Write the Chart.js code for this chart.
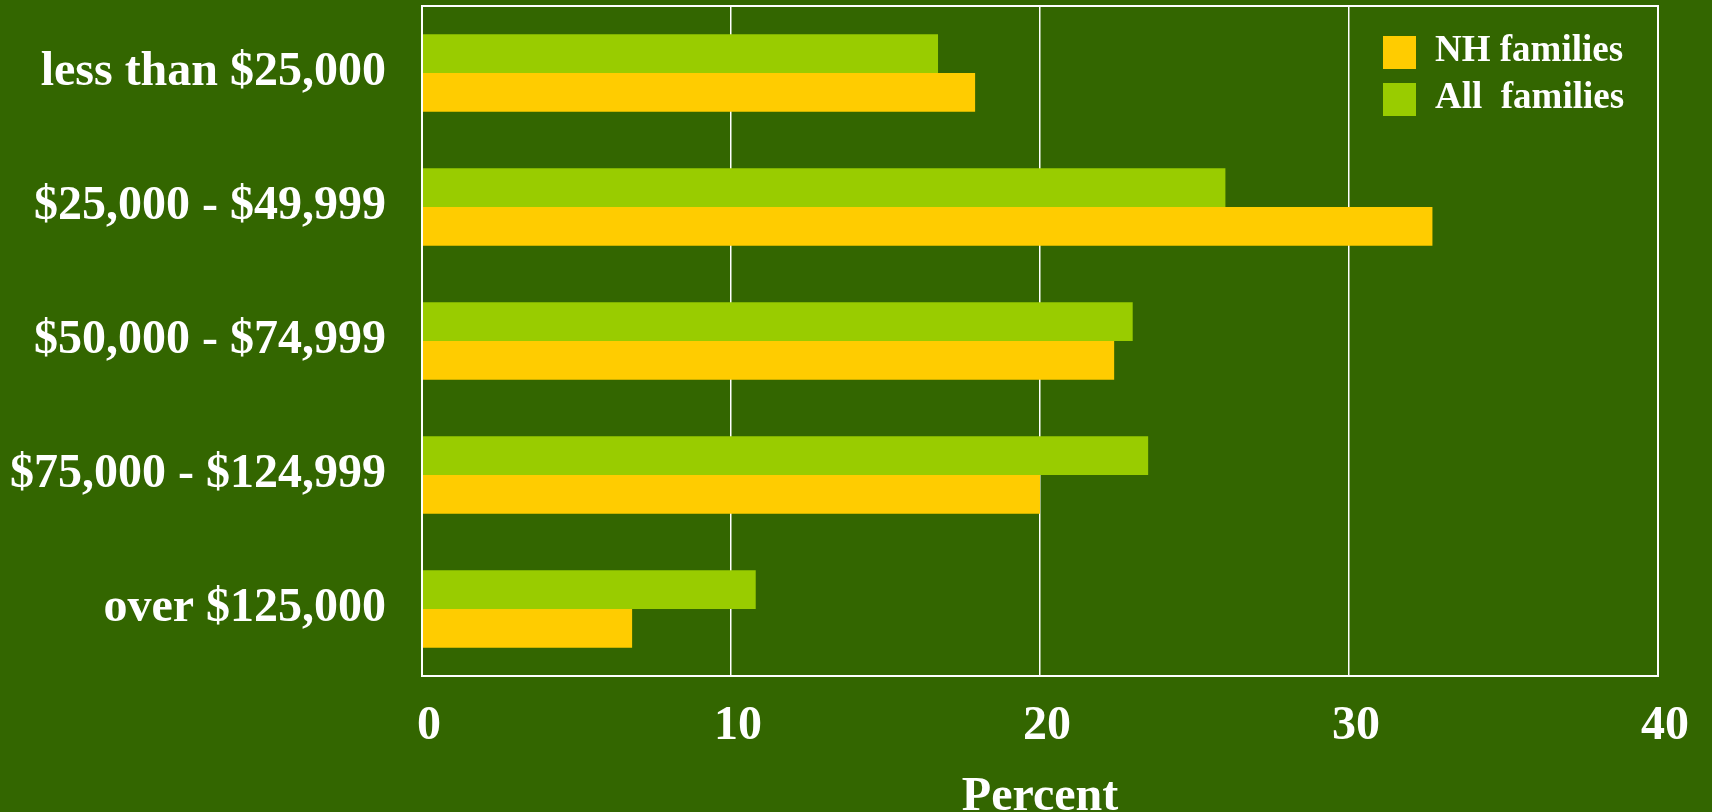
<!DOCTYPE html>
<html lang="en">
<head>
    <meta charset="UTF-8">
    <title>Family Income</title>
    <script src="https://cdn.jsdelivr.net/npm/chart.js@4.4.0/dist/chart.umd.min.js"></script>
    <style>
        html, body { margin: 0; padding: 0; background: #336600; overflow: hidden; }
        #wrap { width: 1712px; height: 812px; }
    </style>
</head>
<body>
    <div id="wrap">
        <canvas id="barChart" width="1712" height="812"></canvas>
    </div>
    <script>
        const categories = ['less than $25,000', '$25,000 - $49,999', '$50,000 - $74,999', '$75,000 - $124,999', 'over $125,000'];
        const allFamilies = [16.7, 26.0, 23.0, 23.5, 10.8];
        const nhFamilies = [17.9, 32.7, 22.4, 20.0, 6.8];
        const seriesNames = ['All  families', 'NH families'];
        const xTicks = [0, 10, 20, 30, 40];

        const serif = '"Liberation Serif", "Times New Roman", serif';

        // white frame round the plot area + legend inside it
        const framePlugin = {
            id: 'frame',
            beforeDraw(chart) {
                const ctx = chart.ctx;
                ctx.save();
                ctx.fillStyle = '#336600';
                ctx.fillRect(0, 0, chart.width, chart.height);
                ctx.restore();
            },
            afterDatasetsDraw(chart) {
                const ctx = chart.ctx;
                const a = chart.chartArea;
                ctx.save();
                ctx.strokeStyle = '#ffffff';
                ctx.lineWidth = 2;
                ctx.strokeRect(a.left, a.top, a.right - a.left, a.bottom - a.top);

                // legend, NH first
                const order = [1, 0];
                ctx.font = 'bold 37px ' + serif;
                ctx.textBaseline = 'middle';
                ctx.textAlign = 'left';
                order.forEach((di, i) => {
                    const ds = chart.data.datasets[di];
                    const bx = a.right - 275;
                    const by = a.top + 30 + i * 47;
                    ctx.fillStyle = ds.backgroundColor;
                    ctx.fillRect(bx, by, 33, 33);
                    ctx.fillStyle = '#ffffff';
                    ctx.fillText(ds.label, bx + 52, by + 15);
                });
                ctx.restore();
            }
        };

        function noPad(scale) {
            scale.paddingTop = 0;
            scale.paddingBottom = 0;
            scale.paddingLeft = 0;
            scale.paddingRight = 0;
        }

        const ctx = document.getElementById('barChart').getContext('2d');
        const barChart = new Chart(ctx, {
            type: 'bar',
            data: {
                labels: categories,
                datasets: [{
                    label: seriesNames[0],
                    data: allFamilies,
                    backgroundColor: '#99cc00',
                    borderWidth: 0
                }, {
                    label: seriesNames[1],
                    data: nhFamilies,
                    backgroundColor: '#ffcc00',
                    borderWidth: 0
                }]
            },
            options: {
                indexAxis: 'y',
                responsive: false,
                animation: false,
                categoryPercentage: 0.58,
                barPercentage: 1.0,
                layout: {
                    padding: { top: 6, right: 54, left: 0, bottom: 0 }
                },
                plugins: {
                    legend: { display: false },
                    tooltip: { enabled: false }
                },
                scales: {
                    x: {
                        min: 0,
                        max: 40,
                        afterBuildTicks: (scale) => {
                            scale.ticks = xTicks.map(v => ({ value: v }));
                        },
                        afterFit: (scale) => { scale.height = 136; noPad(scale); },
                        grid: {
                            color: '#ffffff',
                            lineWidth: 1.5,
                            drawTicks: false
                        },
                        border: { display: false },
                        ticks: {
                            color: '#ffffff',
                            padding: 22,
                            labelOffset: 7,
                            font: { family: serif, size: 48, weight: 'bold' }
                        },
                        title: {
                            display: true,
                            text: 'Percent',
                            color: '#ffffff',
                            font: { family: serif, size: 48, weight: 'bold', lineHeight: 1 },
                            padding: { top: 0, bottom: -10 }
                        }
                    },
                    y: {
                        afterFit: (scale) => { scale.width = 422; noPad(scale); },
                        grid: { display: false, drawTicks: false },
                        border: { display: false },
                        ticks: {
                            color: '#ffffff',
                            padding: 36,
                            font: { family: serif, size: 48, weight: 'bold' }
                        }
                    }
                }
            },
            plugins: [framePlugin]
        });
    </script>
</body>
</html>
